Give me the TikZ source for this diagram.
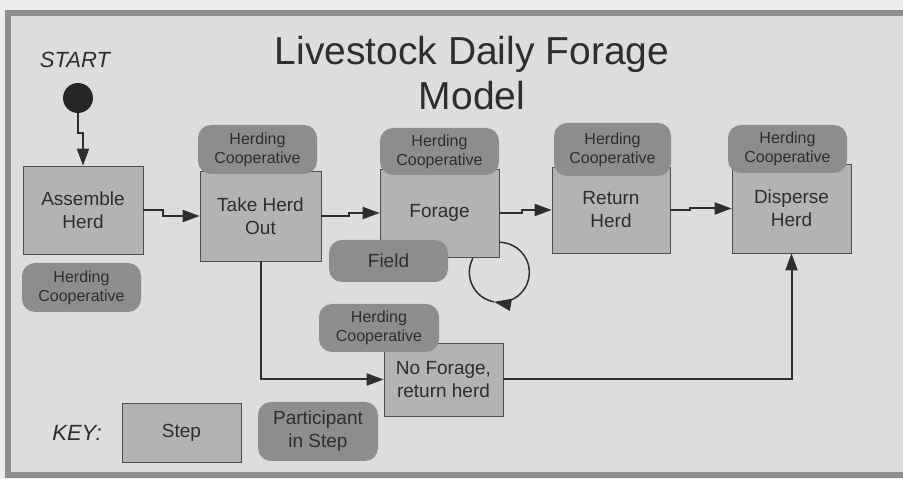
\documentclass[tikz,border=0pt]{standalone}
\usepackage{fontspec}
\setmainfont{Liberation Sans}
\usetikzlibrary{arrows.meta}

\definecolor{bgpage}{HTML}{ECECEC}
\definecolor{bgframe}{HTML}{DDDDDF}
\definecolor{framegray}{HTML}{8E8E8E}
\definecolor{stepgray}{HTML}{B3B3B5}
\definecolor{partgray}{HTML}{8D8D8F}
\definecolor{ink}{HTML}{2E2E2E}

\begin{document}
\begin{tikzpicture}[x=1pt,y=1pt,
    stepbox/.style={draw=ink!85, line width=0.7pt, fill=stepgray, text=ink,
      align=center, inner sep=0pt, minimum width=119pt,
      font=\fontsize{19}{23}\selectfont},
    partbox/.style={fill=partgray, rounded corners=13pt, text=ink,
      align=center, inner sep=0pt, minimum width=119pt,
      font=\fontsize{16}{19}\selectfont},
    flow/.style={draw=ink, line width=2pt, -{Triangle[length=17pt,width=12pt]}},
    keytext/.style={text=ink, font=\itshape\fontsize{22}{26}\selectfont}]
    \useasboundingbox (0,0) rectangle (903,479);
    \clip (0,0) rectangle (903,479);
    \fill[bgpage] (0,0) rectangle (903,479);
    \draw[framegray, line width=6pt, fill=bgframe] (8,3.5) rectangle (915,466);

    % title and start
    \node[text=ink, align=center, font=\fontsize{39}{45}\selectfont] (title) at (472,405.5)
      {Livestock Daily Forage\\Model};
    \node[keytext] (start) at (75,419) {START};
    \node[circle, fill=black!85, minimum size=30pt, inner sep=0pt] (dot) at (78,381) {};

    % steps
    \node[stepbox, minimum width=120pt, minimum height=88pt] (assemble) at (83,269) {Assemble\\Herd};
    \node[stepbox, minimum width=121pt, minimum height=90pt] (takeout) at (260.5,263) {Take Herd\\Out};
    \node[stepbox, minimum height=88pt] (forage) at (439.5,266) {Forage};
    \node[stepbox, minimum width=118pt, minimum height=86pt] (return) at (611,269) {Return\\Herd};
    \node[stepbox, minimum height=89pt] (disperse) at (791.5,270.5) {Disperse\\Herd};
    \node[stepbox, minimum height=73pt] (noforage) at (443.5,99.5) {No Forage,\\return herd};

    % participants
    \node[partbox, minimum height=49pt] (ptakeout) at (257.5,329.5) {Herding\\Cooperative};
    \node[partbox, minimum height=47pt] (pforage) at (439.5,327.5) {Herding\\Cooperative};
    \node[partbox, minimum width=117pt, minimum height=53pt] (preturn) at (612.5,329.5) {Herding\\Cooperative};
    \node[partbox, minimum height=48pt] (pdisperse) at (787.5,330) {Herding\\Cooperative};
    \node[partbox, minimum height=49pt] (passemble) at (81.5,191.5) {Herding\\Cooperative};
    \node[partbox, minimum height=42pt, font=\fontsize{19}{23}\selectfont] (field) at (388.5,218) {Field};
    \node[partbox, minimum width=120pt, minimum height=48pt] (pnoforage) at (379,151) {Herding\\Cooperative};

    % connectors
    \draw[flow] (dot.south) -- ++(0,-20) -| (assemble.north);
    \draw[flow] (assemble.east) -- ++(20,0) |- (takeout.west);
    \draw[flow] (takeout.east) -- ++(28,0) |- (forage.west);
    \draw[flow] (forage.east) -- ++(23,0) |- (return.west);
    \draw[flow] (return.east) -- ++(20,0) |- (disperse.west);
    \draw[flow] (takeout.south) |- (noforage.west);
    \draw[flow] (noforage.east) -| (disperse.south);
    \draw[flow, line width=1.5pt] ([yshift=15pt]forage.south east)
      arc[start angle=90, end angle=-100, radius=30pt] coordinate (loopend);
    \draw[draw=ink, line width=1.5pt] (loopend) arc[start angle=-100, end angle=-208, radius=30pt];

    % key
    \node[keytext] (key) at (77,46) {KEY:};
    \node[stepbox, minimum height=59pt] (keystep) at (181.5,46.5) {Step};
    \node[partbox, minimum width=120pt, minimum height=59pt,
      font=\fontsize{19}{23}\selectfont] (keypart) at (318,47.5) {Participant\\in Step};
\end{tikzpicture}
\end{document}
